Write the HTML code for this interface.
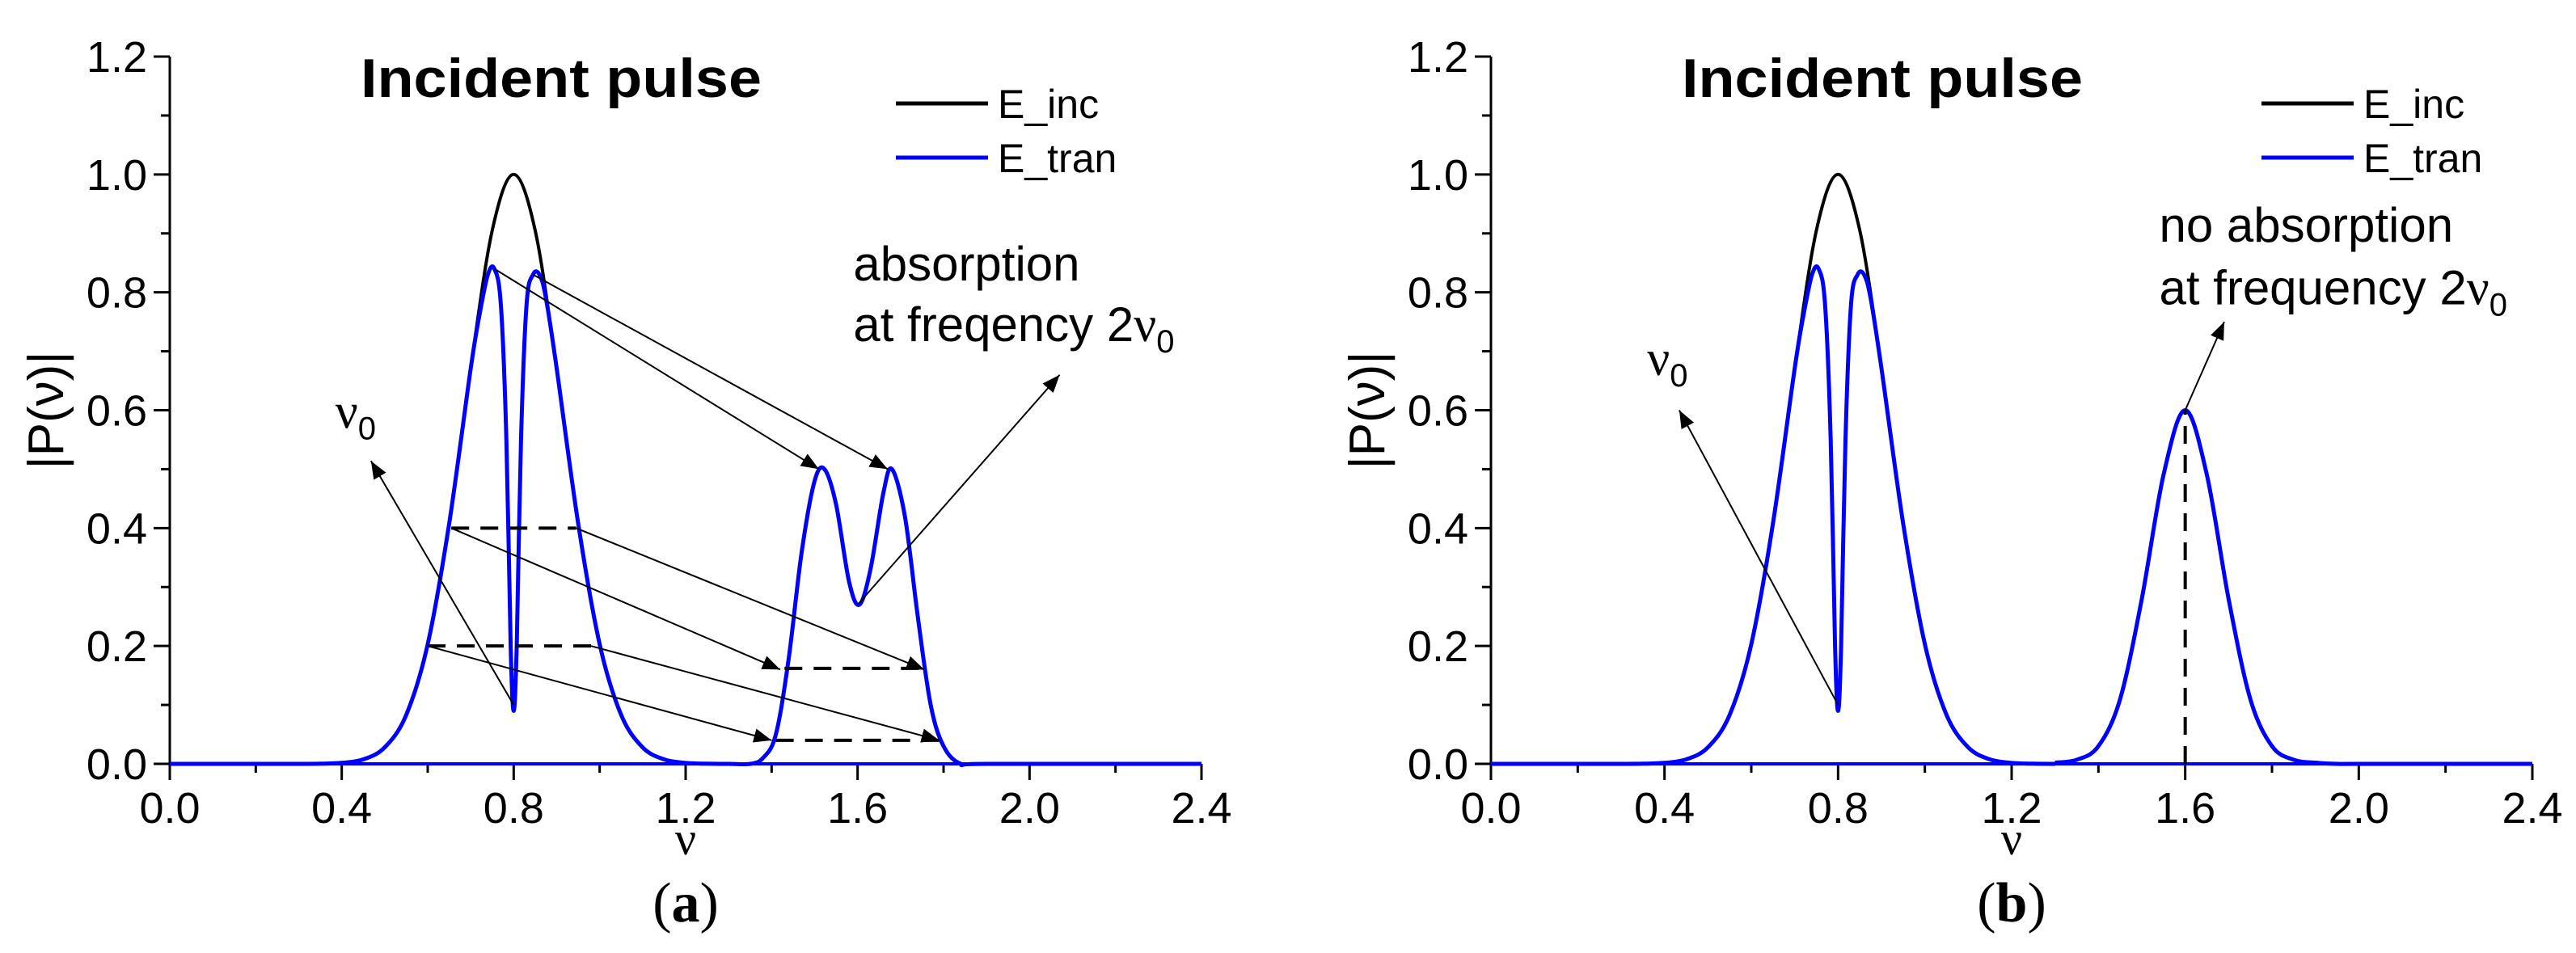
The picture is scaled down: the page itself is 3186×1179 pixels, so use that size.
<!DOCTYPE html>
<html><head><meta charset="utf-8"><style>
html,body{margin:0;padding:0;background:#fff;}
svg{display:block;}
text{font-family:"Liberation Sans Narrow","Liberation Sans",sans-serif;}
</style></head>
<body>
<svg id="fig" width="3186" height="1179" viewBox="0 0 3186 1179" xmlns="http://www.w3.org/2000/svg"></svg>
<script>
const xTicks = [0.0, 0.4, 0.8, 1.2, 1.6, 2.0, 2.4];
const yTicks = [0.0, 0.2, 0.4, 0.6, 0.8, 1.0, 1.2];
const incX = [0.0,0.3,0.35,0.4,0.45,0.5,0.55,0.6,0.65,0.7,0.75,0.8,0.85,0.9,0.95,1.0,1.05,1.1,1.15,1.2,1.25,1.3,2.4];
const incY = [0,0,0.0003,0.0017,0.0076,0.028,0.083,0.203,0.408,0.671,0.905,1.0,0.905,0.671,0.408,0.203,0.083,0.028,0.0076,0.0017,0.0003,0,0];
const mainX = [0.0,0.3,0.35,0.4,0.45,0.5,0.55,0.6,0.65,0.7,0.72,0.74,0.755,0.77,0.783,0.793,0.8,0.807,0.817,0.83,0.845,0.86,0.875,0.9,0.95,1.0,1.05,1.1,1.15,1.2,1.25,1.3];
const mainY = [0,0,0.0003,0.0017,0.0076,0.028,0.083,0.203,0.408,0.671,0.76,0.83,0.84,0.78,0.55,0.2,0.09,0.2,0.55,0.78,0.83,0.83,0.79,0.671,0.408,0.203,0.083,0.028,0.0076,0.0017,0.0003,0];
const harmAX = [1.3,1.35,1.38,1.41,1.44,1.47,1.5,1.523,1.55,1.58,1.604,1.63,1.66,1.68,1.71,1.74,1.77,1.8,1.84,1.9,2.4];
const harmAY = [0,0,0.01,0.05,0.18,0.36,0.48,0.5,0.44,0.31,0.27,0.33,0.46,0.5,0.42,0.25,0.1,0.03,0,0,0];
const harmBX = [1.3,1.35,1.4,1.45,1.5,1.55,1.6,1.65,1.7,1.75,1.8,1.85,1.9,1.95,2.0,2.4];
const harmBY = [0.002,0.007,0.03,0.11,0.28,0.49,0.6,0.49,0.28,0.11,0.03,0.007,0.002,0,0,0];

const NS = "http://www.w3.org/2000/svg";
const svg = document.getElementById('fig');
function el(tag, attrs, parent, txt){
  const e = document.createElementNS(NS, tag);
  for (const k in attrs) e.setAttribute(k, attrs[k]);
  if (txt !== undefined) e.textContent = txt;
  (parent||svg).appendChild(e);
  return e;
}
const defs = el('defs', {});
const mk = el('marker', {id:'arr', viewBox:'0 0 10 10', refX:'10', refY:'5', markerWidth:'22', markerHeight:'22', orient:'auto-start-reverse', markerUnits:'userSpaceOnUse'}, defs);
el('path', {d:'M0,1 L10,5 L0,9 z', fill:'#000'}, mk);

function smoothPath(pts){
  let d = 'M' + pts[0][0].toFixed(1) + ',' + pts[0][1].toFixed(1);
  for (let i=0;i<pts.length-1;i++){
    const p0 = pts[Math.max(0,i-1)], p1 = pts[i], p2 = pts[i+1], p3 = pts[Math.min(pts.length-1,i+2)];
    const c1x = p1[0] + (p2[0]-p0[0])/6, c1y = p1[1] + (p2[1]-p0[1])/6;
    const c2x = p2[0] - (p3[0]-p1[0])/6, c2y = p2[1] - (p3[1]-p1[1])/6;
    d += ' C' + c1x.toFixed(1)+','+c1y.toFixed(1)+' '+c2x.toFixed(1)+','+c2y.toFixed(1)+' '+p2[0].toFixed(1)+','+p2[1].toFixed(1);
  }
  return d;
}

function panel(cfg){
  const g = el('g', {});
  
  
  const X = v => cfg.x0 + (v/2.4)*(cfg.x1-cfg.x0);
  const Y = v => cfg.y0 - (v/1.2)*(cfg.y0-cfg.y1);
  const ax = el('g', {}, g);
  
  
  el('line', {x1:X(0), y1:Y(0), x2:X(2.4), y2:Y(0), stroke:'#000', 'stroke-width':3}, ax);
  el('line', {x1:X(0), y1:Y(0), x2:X(0), y2:Y(1.2), stroke:'#000', 'stroke-width':3}, ax);
  for (let i=0;i<=12;i++){
    const v = i*0.2;
    el('line', {x1:X(v), y1:Y(0), x2:X(v), y2:Y(0)+(i%2==0?20:11), stroke:'#000', 'stroke-width':3}, ax);
  }
  for (let i=0;i<=12;i++){
    const v = i*0.1;
    el('line', {x1:X(0), y1:Y(v), x2:X(0)-(i%2==0?20:11), y2:Y(v), stroke:'#000', 'stroke-width':3}, ax);
  }
  xTicks.forEach(v=>{
    const t = el('text', {x:X(v), y:Y(0)+73, 'font-size':54, 'text-anchor':'middle'}, ax, v.toFixed(1));
    
    
  });
  yTicks.forEach(v=>{
    const t = el('text', {x:X(0)-28, y:Y(v)+19, 'font-size':54, 'text-anchor':'end'}, ax, v.toFixed(1));
    
    
  });
  const xl = el('text', {x:X(1.2), y:Y(0)+112, 'font-size':58, 'text-anchor':'middle', style:'font-family:"Liberation Serif",serif'}, ax, 'ν');
  
  
  const yl = el('text', {x:0, y:0, 'font-size':62, 'text-anchor':'middle', transform:'translate('+(cfg.x0-132)+','+Y(0.6)+') rotate(-90)'}, ax, '|P(ν)|');
  
  
  const toPts = (xs, ys) => xs.map((x,i)=>[X(x), Y(ys[i])]);
  const inc = el('path', {d:smoothPath(toPts(incX, incY)), fill:'none', stroke:'#000', 'stroke-width':4}, g);
  
  
  const tr = el('path', {d:smoothPath(toPts(mainX, mainY)), fill:'none', stroke:'#0000ff', 'stroke-width':5}, g);
  
  
  const tr2 = el('path', {d:smoothPath(toPts(cfg.harmX, cfg.harmY)), fill:'none', stroke:'#0000ff', 'stroke-width':5}, g);
  
  
  el('line', {x1:X(0), y1:Y(0), x2:X(2.4), y2:Y(0), stroke:'#0000ff', 'stroke-width':4}, g);
  const ti = el('text', {x:cfg.titleX, y:120, 'font-size':68, 'font-weight':'bold', textLength:496, lengthAdjust:'spacingAndGlyphs'}, g, 'Incident  pulse');
  
  
  const lg = el('g', {}, g);
  
  
  el('line', {x1:cfg.legX, y1:128, x2:cfg.legX+114, y2:128, stroke:'#000', 'stroke-width':5}, lg);
  el('line', {x1:cfg.legX, y1:195, x2:cfg.legX+114, y2:195, stroke:'#0000ff', 'stroke-width':5}, lg);
  const l1 = el('text', {x:cfg.legX+126, y:146, 'font-size':50}, lg, 'E_inc');
  
  
  const l2 = el('text', {x:cfg.legX+126, y:213, 'font-size':50}, lg, 'E_tran');
  
  
  const an = el('g', {}, g);
  
  
  cfg.arrows.forEach(a=>{
    el('line', {x1:X(a[0]), y1:Y(a[1]), x2:X(a[2]), y2:Y(a[3]), stroke:'#000', 'stroke-width':2, 'marker-end':'url(#arr)'}, an);
  });
  cfg.dashes.forEach(a=>{
    el('line', {x1:X(a[0]), y1:Y(a[1]), x2:X(a[2]), y2:Y(a[3]), stroke:'#000', 'stroke-width':4, 'stroke-dasharray':'22,14'}, an);
  });
  cfg.texts.forEach(t=>{
    const e = el('text', {x:X(t[0]), y:Y(t[1]), 'font-size':60}, an);
    
    
    e.innerHTML = t[2];
  });
  const lab = el('text', {x:X(1.2), y:1140, 'font-size':70, 'text-anchor':'middle', style:'font-family:"Liberation Serif",serif'}, g);
  
  
  lab.innerHTML = '(<tspan font-weight="bold">' + cfg.label + '</tspan>)';
}

const nu0 = '<tspan style=\'font-family:"Liberation Serif",serif\' font-size="62">ν</tspan><tspan dy="14" font-size="40">0</tspan>';
panel({
  name:'panel-a', x0:210, x1:1486, y0:945, y1:70, titleX:446, legX:1108, label:'a',
  harmX: harmAX, harmY: harmAY,
  arrows:[[0.755,0.84,1.51,0.5],[0.845,0.83,1.67,0.5],[0.655,0.4,1.42,0.16],[0.945,0.4,1.755,0.16],
          [0.6,0.2,1.4,0.04],[0.98,0.2,1.79,0.04],[0.8,0.1,0.468,0.514],[1.6,0.27,2.07,0.66]],
  dashes:[[0.655,0.4,0.945,0.4],[0.6,0.2,0.98,0.2],[1.43,0.162,1.755,0.162],[1.41,0.04,1.79,0.04]],
  texts:[[0.385,0.57,nu0],[1.59,0.82,'absorption'],[1.59,0.717,'at freqency  2'+nu0]]
});
panel({
  name:'panel-b', x0:1844, x1:3132, y0:945, y1:70, titleX:2080, legX:2797, label:'b',
  harmX: harmBX, harmY: harmBY,
  arrows:[[0.8,0.1,0.434,0.6],[1.6,0.6,1.69,0.75]],
  dashes:[[1.6,0,1.6,0.6]],
  texts:[[0.36,0.66,nu0],[1.54,0.886,'no absorption'],[1.54,0.78,'at frequency 2'+nu0]]
});
</script>
</body></html>
